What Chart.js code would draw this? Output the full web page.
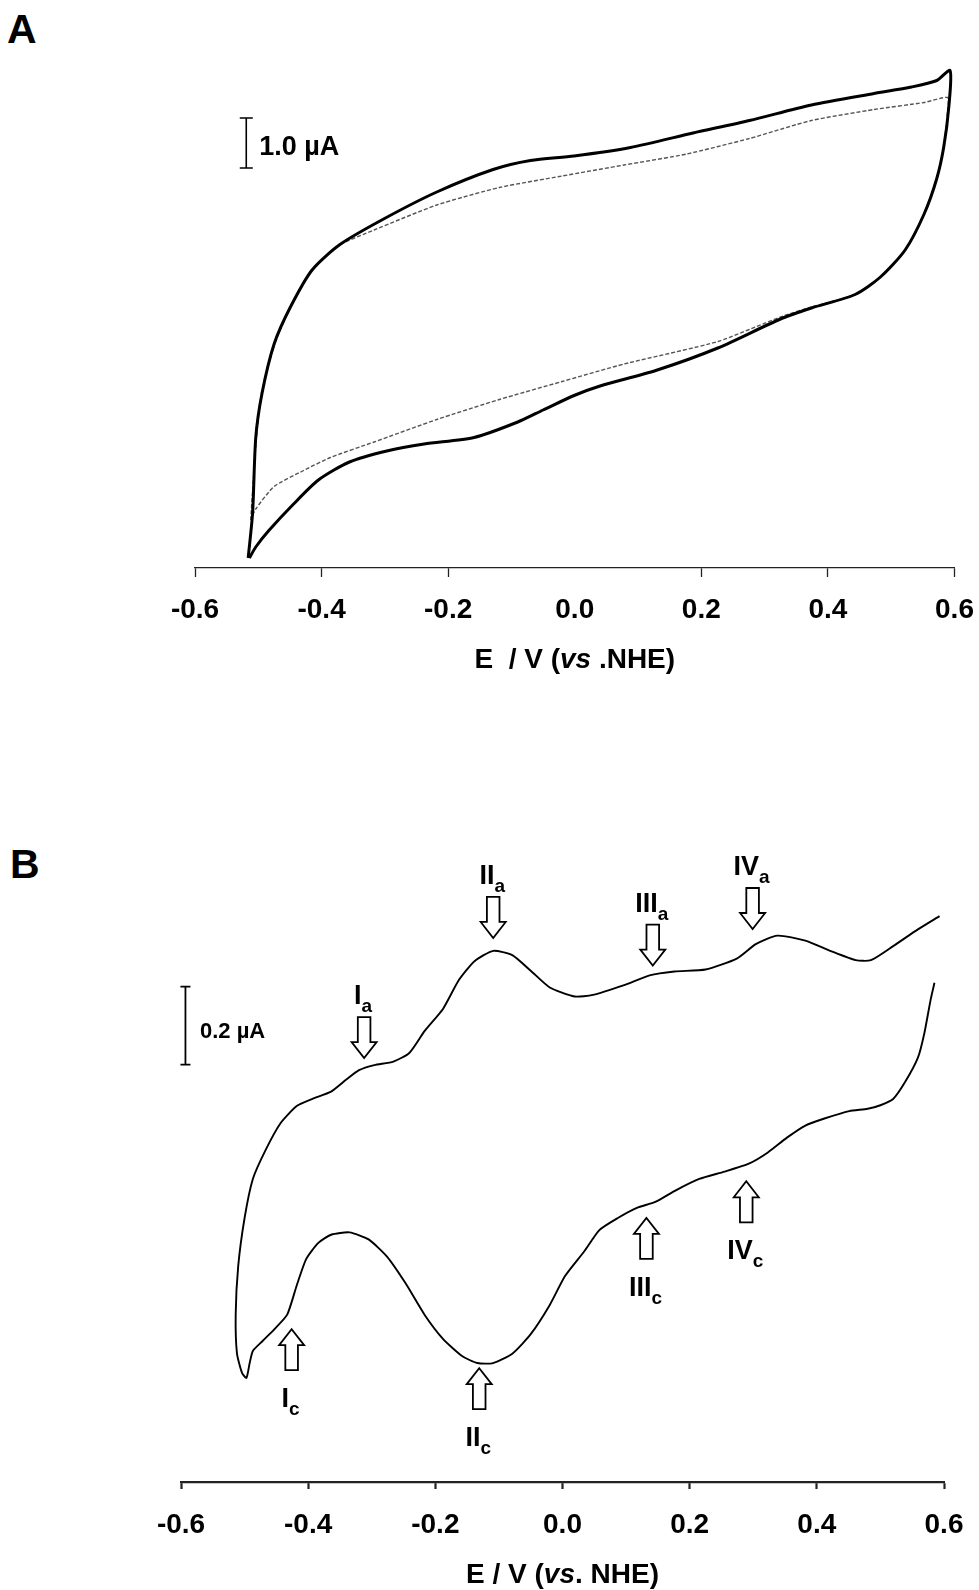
<!DOCTYPE html>
<html>
<head>
<meta charset="utf-8">
<script src="https://cdn.jsdelivr.net/npm/chart.js@4.4.0/dist/chart.umd.min.js"></script>
<style>
  html, body { margin: 0; padding: 0; background: #fff; overflow: hidden; }
  body { position: relative; width: 979px; height: 1590px; font-family: "Liberation Sans", Arial, sans-serif; }
  .tag { position: absolute; font-weight: bold; font-size: 41px; line-height: 1; color: #000; }
  canvas { position: absolute; left: 0; }
</style>
</head>
<body>
<div class="tag" style="left:7px;top:9px">A</div>
<div class="tag" style="left:10px;top:844px">B</div>
<canvas id="chartA" width="1010" height="720" style="top:0"></canvas>
<canvas id="chartB" width="1010" height="790" style="top:800px"></canvas>
<script>
// potential axis (V vs. NHE)
const tickValues = [-0.6, -0.4, -0.2, 0.0, 0.2, 0.4, 0.6];
const tickLabels = ['-0.6', '-0.4', '-0.2', '0.0', '0.2', '0.4', '0.6'];

// panel A, solid loop: E (V) and I (uA)
const aSolidE = [-0.516, -0.509, -0.504, -0.494, -0.475, -0.450, -0.415, -0.371, -0.302, -0.218, -0.129, -0.070, -0.001, 0.088, 0.187, 0.276, 0.374, 0.473, 0.532, 0.572, 0.593,
  0.591, 0.583, 0.572, 0.552, 0.522, 0.483, 0.443, 0.374, 0.325, 0.226, 0.128, 0.040, -0.001, -0.050, -0.090, -0.159, -0.238, -0.297, -0.356, -0.405, -0.445, -0.484, -0.504, -0.514];
const aSolidI = [-4.80, -3.90, -2.39, -1.50, -0.52, 0.20, 0.96, 1.47, 1.98, 2.52, 2.97, 3.15, 3.24, 3.41, 3.70, 3.95, 4.26, 4.49, 4.62, 4.75, 4.95,
  4.22, 3.42, 2.79, 2.08, 1.36, 0.82, 0.47, 0.20, -0.02, -0.60, -1.05, -1.36, -1.55, -1.84, -2.08, -2.39, -2.52, -2.66, -2.88, -3.24, -3.73, -4.26, -4.58, -4.80];

// panel A, dotted loop
const aDashE = [-0.512, -0.504, -0.495, -0.474, -0.450, -0.416, -0.371, -0.317, -0.218, -0.119, -0.020, 0.078, 0.177, 0.276, 0.374, 0.473, 0.552, 0.589,
  0.589, 0.583, 0.572, 0.552, 0.522, 0.483, 0.443, 0.374, 0.325, 0.226, 0.078, -0.020, -0.119, -0.218, -0.317, -0.386, -0.430, -0.475, -0.504, -0.512];
const aDashI = [-4.04, -2.56, -1.50, -0.52, 0.20, 0.96, 1.46, 1.76, 2.26, 2.61, 2.84, 3.06, 3.28, 3.59, 3.95, 4.17, 4.31, 4.41,
  4.13, 3.42, 2.79, 2.08, 1.36, 0.82, 0.47, 0.22, 0.02, -0.47, -0.92, -1.27, -1.63, -2.03, -2.48, -2.79, -3.06, -3.37, -3.82, -4.04];

// panel B: cathodic sweep then anodic sweep
const bE = [0.585, 0.579, 0.569, 0.559, 0.539, 0.520, 0.500, 0.480, 0.451, 0.412, 0.382, 0.353, 0.323, 0.294, 0.255, 0.215, 0.176, 0.146, 0.117, 0.087, 0.058, 0.034, 0.004,
  -0.020, -0.050, -0.079, -0.109, -0.134, -0.158, -0.188, -0.217, -0.247, -0.276, -0.305, -0.335, -0.364, -0.384, -0.403, -0.418, -0.433, -0.453, -0.472, -0.487, -0.492, -0.497,
  -0.504, -0.512, -0.514, -0.510, -0.500, -0.487, -0.467, -0.443, -0.418, -0.394, -0.364, -0.340, -0.320, -0.296, -0.266, -0.241, -0.217, -0.188, -0.163, -0.138,
  -0.109, -0.079, -0.050, -0.020, 0.019, 0.048, 0.097, 0.137, 0.176, 0.225, 0.274, 0.304, 0.338, 0.382, 0.421, 0.461, 0.485, 0.520, 0.559, 0.593];
const bI = [0.480, 0.437, 0.350, 0.288, 0.226, 0.182, 0.166, 0.157, 0.151, 0.132, 0.114, 0.083, 0.045, 0.017, -0.004, -0.023, -0.054, -0.082, -0.097, -0.123, -0.154, -0.209, -0.272,
  -0.346, -0.421, -0.471, -0.495, -0.495, -0.477, -0.433, -0.371, -0.290, -0.222, -0.178, -0.160, -0.166, -0.187, -0.228, -0.296, -0.371, -0.408, -0.439, -0.464, -0.495, -0.533,
  -0.520, -0.470, -0.371, -0.246, -0.123, -0.023, 0.051, 0.121, 0.164, 0.182, 0.201, 0.232, 0.256, 0.269, 0.278, 0.300, 0.356, 0.413, 0.487, 0.536,
  0.562, 0.551, 0.511, 0.468, 0.445, 0.449, 0.474, 0.499, 0.509, 0.514, 0.542, 0.579, 0.601, 0.588, 0.562, 0.538, 0.538, 0.574, 0.617, 0.651];

// peak markers in panel B (arrow tip at E, I)
const peakNames = ['I', 'II', 'III', 'IV'];
const anodicPeakE = [-0.312, -0.109, 0.142, 0.299];
const anodicPeakI = [0.287, 0.595, 0.524, 0.618];
const cathodicPeakE = [-0.426, -0.131, 0.132, 0.289];
const cathodicPeakI = [-0.408, -0.508, -0.123, -0.029];

const FONT = '"Liberation Sans", Arial, sans-serif';

function toPoints(xs, ys) {
  return xs.map((x, i) => ({ x: x, y: ys[i] }));
}

function richText(ctx, runs, cx, baseline) {
  let total = 0;
  runs.forEach(r => { ctx.font = r.font; total += ctx.measureText(r.text).width; });
  let x = cx - total / 2;
  runs.forEach(r => {
    ctx.font = r.font;
    ctx.fillText(r.text, x, baseline + (r.dy || 0));
    x += ctx.measureText(r.text).width;
  });
}

function drawArrow(ctx, x, tip, dir) {
  // dir 1 = pointing down, -1 = pointing up
  const len = 41, head = 16, sw = 6.3, hw = 12.5;
  ctx.beginPath();
  ctx.moveTo(x - sw, tip - len * dir);
  ctx.lineTo(x + sw, tip - len * dir);
  ctx.lineTo(x + sw, tip - head * dir);
  ctx.lineTo(x + hw, tip - head * dir);
  ctx.lineTo(x, tip);
  ctx.lineTo(x - hw, tip - head * dir);
  ctx.lineTo(x - sw, tip - head * dir);
  ctx.closePath();
  ctx.fillStyle = '#fff';
  ctx.fill();
  ctx.lineWidth = 1.8;
  ctx.strokeStyle = '#000';
  ctx.stroke();
}

const cvDecor = {
  id: 'cvDecor',
  afterDraw(chart, args, opts) {
    const { ctx, chartArea } = chart;
    const x = chart.scales.x, y = chart.scales.y;
    ctx.save();
    ctx.fillStyle = '#000';
    ctx.strokeStyle = '#000';
    ctx.textAlign = 'left';
    ctx.textBaseline = 'alphabetic';

    if (opts.title) {
      richText(ctx, opts.title, (chartArea.left + chartArea.right) / 2, chartArea.bottom + opts.titleGap);
    }

    const sb = opts.scaleBar;
    if (sb) {
      const bx = x.getPixelForValue(sb.e);
      const y0 = y.getPixelForValue(sb.from), y1 = y.getPixelForValue(sb.to);
      ctx.lineWidth = sb.width;
      ctx.beginPath();
      ctx.moveTo(bx, y0); ctx.lineTo(bx, y1);
      ctx.moveTo(bx - sb.cap, y0); ctx.lineTo(bx + sb.cap, y0);
      ctx.moveTo(bx - sb.cap, y1); ctx.lineTo(bx + sb.cap, y1);
      ctx.stroke();
      ctx.font = sb.font;
      ctx.fillText(sb.text, bx + sb.gap, (y0 + y1) / 2 + sb.dy);
    }

    (opts.peaks || []).forEach(p => {
      const px = x.getPixelForValue(p.e), tip = y.getPixelForValue(p.i);
      const dir = p.sub === 'a' ? 1 : -1;
      drawArrow(ctx, px, tip, dir);
      ctx.fillStyle = '#000';
      const base = dir === 1 ? tip - 54 : tip + 78;
      richText(ctx, [
        { text: p.name, font: 'bold 27px ' + FONT },
        { text: p.sub, font: 'bold 19px ' + FONT, dy: 8 }
      ], px - 1, base);
    });
    ctx.restore();
  }
};

function xAxis(o) {
  return {
    type: 'linear',
    min: -0.6,
    max: 0.6,
    afterFit(scale) { scale.height = o.height; },
    afterBuildTicks(scale) { scale.ticks = tickValues.map(v => ({ value: v })); },
    border: { display: true, color: '#222', width: o.width },
    grid: {
      display: true,
      drawOnChartArea: false,
      drawTicks: true,
      tickLength: o.tickLength,
      tickWidth: o.width,
      tickColor: o.tickColor || '#222'
    },
    ticks: {
      padding: o.pad,
      color: '#000',
      maxRotation: 0,
      autoSkip: false,
      font: { family: FONT, size: 28, weight: 'bold' },
      callback: (v, i) => tickLabels[i]
    }
  };
}

const yHidden = (min, max) => ({ type: 'linear', display: false, min: min, max: max });

const common = {
  responsive: false,
  animation: false,
  events: [],
  plugins: { legend: { display: false }, tooltip: { enabled: false } }
};

new Chart(document.getElementById('chartA'), {
  type: 'scatter',
  data: {
    datasets: [
      { data: toPoints(aSolidE, aSolidI), showLine: true, borderColor: '#000', borderWidth: 3, pointRadius: 0, tension: 0.25 },
      { data: toPoints(aDashE, aDashI), showLine: true, borderColor: '#555', borderWidth: 1.4, borderDash: [4, 2], pointRadius: 0, tension: 0.2 }
    ]
  },
  options: Object.assign({}, common, {
    layout: { padding: { left: 195, right: 55.5, top: 43, bottom: 32 } },
    scales: {
      x: xAxis({
        height: 120, width: 1.3, tickLength: 9, pad: 16.5,
        tickColor: c => (c.tick && Math.abs(c.tick.value) < 1e-9) ? 'rgba(0,0,0,0)' : '#222'
      }),
      y: yHidden(-5, 5.5)
    },
    plugins: Object.assign({}, common.plugins, {
      cvDecor: {
        title: [
          { text: 'E  / V (', font: 'bold 28px ' + FONT },
          { text: 'vs', font: 'italic bold 28px ' + FONT },
          { text: ' .NHE)', font: 'bold 28px ' + FONT }
        ],
        titleGap: 100,
        scaleBar: { e: -0.519, from: 3.0, to: 4.0, cap: 6.5, width: 1.6, gap: 13, dy: 12, text: '1.0 µA', font: 'bold 27px ' + FONT }
      }
    })
  }),
  plugins: [cvDecor]
});

const peaks = [];
peakNames.forEach((n, i) => {
  peaks.push({ name: n, sub: 'a', e: anodicPeakE[i], i: anodicPeakI[i] });
  peaks.push({ name: n, sub: 'c', e: cathodicPeakE[i], i: cathodicPeakI[i] });
});

new Chart(document.getElementById('chartB'), {
  type: 'scatter',
  data: {
    datasets: [
      { data: toPoints(bE, bI), showLine: true, borderColor: '#000', borderWidth: 1.9, pointRadius: 0, tension: 0.2 }
    ]
  },
  options: Object.assign({}, common, {
    layout: { padding: { left: 181, right: 66, top: 58, bottom: 8 } },
    scales: {
      x: xAxis({ height: 100, width: 2.2, tickLength: 7, pad: 19.5 }),
      y: yHidden(-0.8, 0.8)
    },
    plugins: Object.assign({}, common.plugins, {
      cvDecor: {
        title: [
          { text: 'E / V (', font: 'bold 28px ' + FONT },
          { text: 'vs', font: 'italic bold 28px ' + FONT },
          { text: '. NHE)', font: 'bold 28px ' + FONT }
        ],
        titleGap: 101,
        scaleBar: { e: -0.593, from: 0.27, to: 0.47, cap: 5, width: 1.8, gap: 14.5, dy: 12, text: '0.2 µA', font: 'bold 22px ' + FONT },
        peaks: peaks
      }
    })
  }),
  plugins: [cvDecor]
});
</script>
</body>
</html>
